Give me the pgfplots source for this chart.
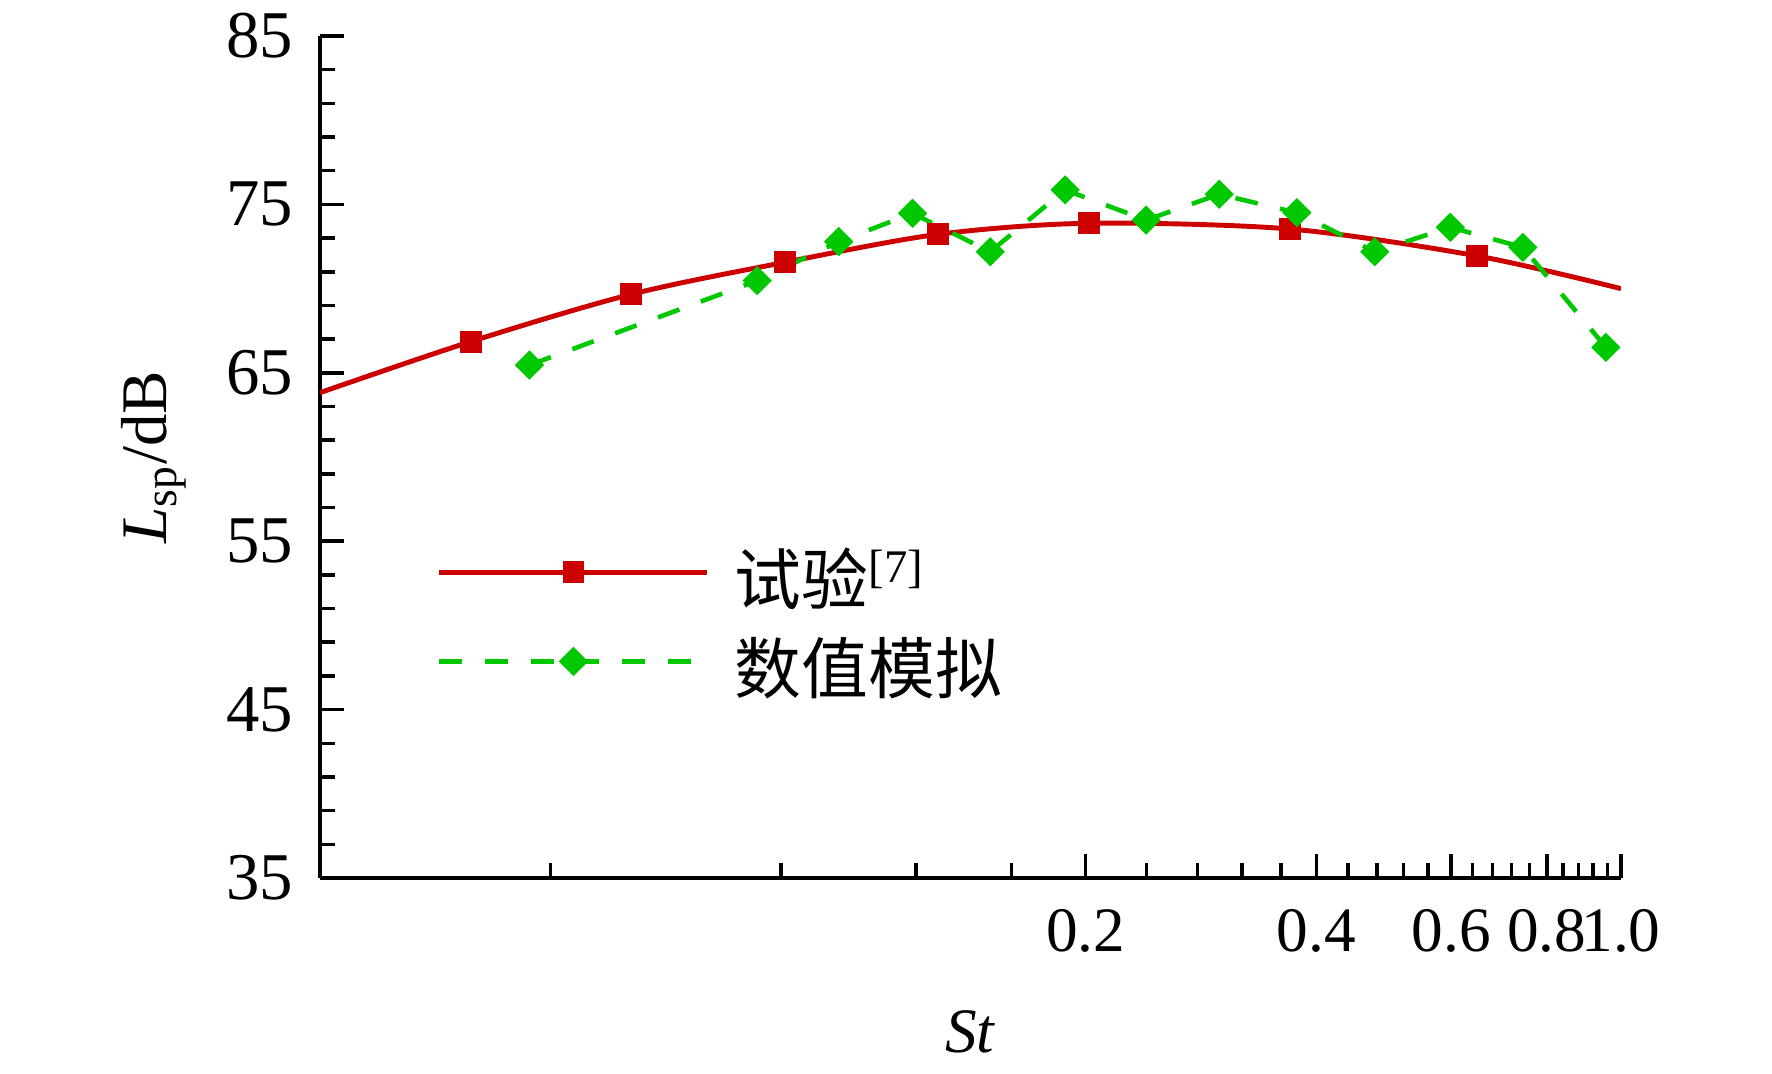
\documentclass[border=0pt]{standalone}
\usepackage{fontspec}
\setmainfont{Liberation Serif}
\newfontfamily\cjk{Noto Sans CJK SC}
\usepackage{pgfplots}
\pgfplotsset{compat=1.18}
\definecolor{expred}{RGB}{204,0,0}
\definecolor{numgreen}{RGB}{0,200,0}
\begin{document}
\begin{tikzpicture}
\useasboundingbox (-3.20cm,-1.95cm) rectangle (14.52cm,8.78cm);
\begin{axis}[
  at={(0,0)}, anchor=south west,
  scale only axis, width=13.01cm, height=8.42cm,
  xmode=log, xmin=0.02, xmax=1.0, ymin=35, ymax=85,
  axis lines*=left,
  axis line style={line width=1.3pt},
  tick style={line width=1pt, black},
  major tick length=0.24cm, minor tick length=0.15cm,
  tick align=inside,
  xtick={0.2,0.4,0.6,0.8,1.0},
  xticklabels={0.2,0.4,0.6,0.8,1.0},
  minor xtick={0.04,0.08,0.12,0.16,0.24,0.28,0.32,0.36,0.44,0.48,0.52,0.56,0.64,0.68,0.72,0.76,0.84,0.88,0.92,0.96},
  ytick={35,45,55,65,75,85},
  minor ytick={37,39,41,43,47,49,51,53,57,59,61,63,67,69,71,73,77,79,81,83},
  /pgf/number format/assume math mode=true,
  xticklabel style={font=\fontsize{18}{20}\selectfont, anchor=base, inner sep=0pt, yshift=-0.73cm},
  yticklabel style={font=\fontsize{19}{21}\selectfont, anchor=east, inner sep=0pt, xshift=-0.26cm},
  xlabel={\textit{St}},
  xlabel style={at={([yshift=-1.74cm]axis description cs:0.5,0)}, anchor=base, font=\fontsize{18}{20}\selectfont},
  ylabel={\textit{L}\textsubscript{sp}/dB},
  ylabel style={at={([xshift=-1.53cm]axis description cs:0,0.5)}, anchor=base, font=\fontsize{18.5}{20}\selectfont},
  legend style={at={(0.0899,0.4163)}, anchor=north west, draw=none, fill=none,
    inner sep=0pt, outer sep=0pt, row sep=0pt, column sep=0.18cm,
    font=\fontsize{19}{22}\selectfont,
    cells={anchor=west, inner sep=0pt, text height=0.7cm, text depth=0.19cm}},
  legend image code/.code={\draw[#1, mark indices={2}] plot coordinates {(0cm,0cm) (1.34cm,0cm) (2.68cm,0cm)};},
]
\addplot[color=expred, line width=1.4pt, smooth, tension=0.5,
  mark=square*, mark size=2.4pt, mark options={solid, fill=expred, draw=expred},
  mark indices={2,3,4,5,6,7,8}]
  coordinates {
  (0.02,63.82) (0.03146,66.85) (0.05096,69.66) (0.0809,71.56) (0.1282,73.22)
  (0.2018,73.88) (0.3694,73.54) (0.649,71.94) (1.0,70.0)
  };
\addlegendentry{{\cjk 试验}\textsuperscript{[7]}}
\addplot[color=numgreen, line width=1.3pt, dash pattern=on 6.5pt off 6.5pt,
  mark=square*, mark size=2.3pt, mark options={solid, rotate=45, fill=numgreen, draw=numgreen},
  mark indices={1,2,3,4,5,6,7,8,9,10,11,12,13}]
  coordinates {
  (0.03755,65.46) (0.07446,70.47) (0.09516,72.79) (0.1188,74.47) (0.1501,72.19)
  (0.188,75.86) (0.2398,74.07) (0.2988,75.6) (0.3774,74.51) (0.477,72.19)
  (0.5986,73.64) (0.7446,72.45) (0.9558,66.51) (1.0,65.56)
  };
\addlegendentry{{\cjk 数值模拟}}
\end{axis}
\end{tikzpicture}
\end{document}
